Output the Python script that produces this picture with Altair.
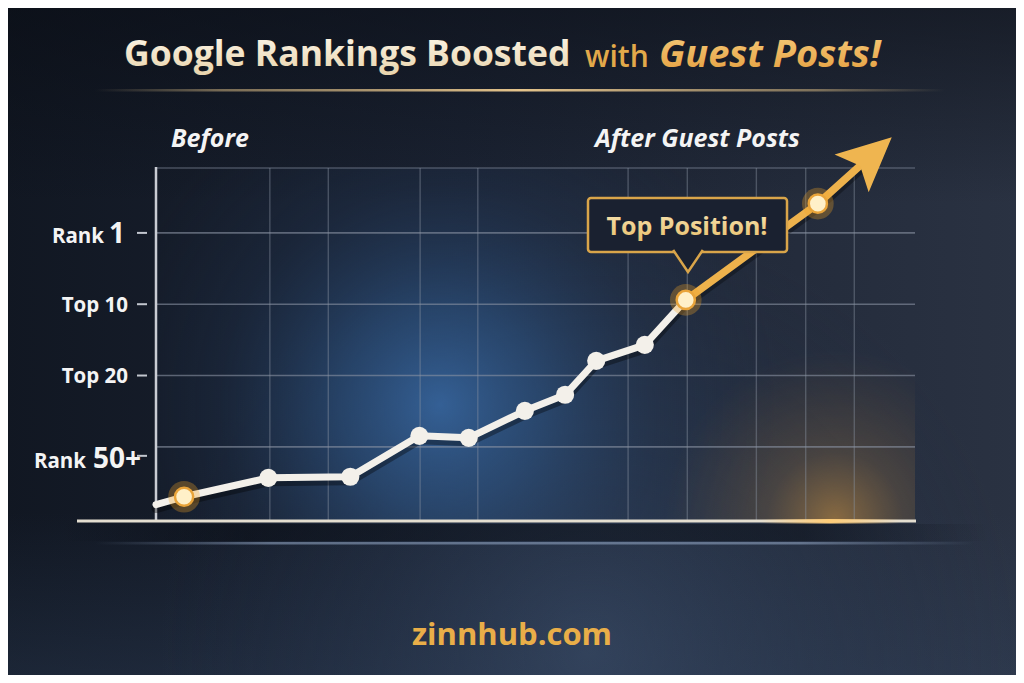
import altair as alt
import pandas as pd

# ---------------- data ----------------
weeks = [0.0, 3.7, 14.8, 25.6, 34.7, 41.2, 48.6, 53.9, 58.0, 64.4, 69.8]
levels = [0.19, 0.30, 0.565, 0.58, 1.154, 1.126, 1.505, 1.73, 2.206, 2.43, 3.06]
gold_weeks = [69.8, 87.2, 94.0]
gold_levels = [3.06, 4.41, 5.06]
highlight_weeks = [3.7, 69.8, 87.2]
highlight_levels = [0.30, 3.06, 4.41]
grid_weeks = [15.0, 22.7, 34.8, 42.4, 62.2, 70.0, 79.1, 85.6, 92.0]
rank_levels = [4, 3, 2, 1]
rank_labels = ["Rank 1", "Top 10", "Top 20", "Rank 50+"]

TITLE_MAIN = "Google Rankings Boosted"
TITLE_WITH = "with"
TITLE_GOLD = "Guest Posts!"
LEFT_NOTE = "Before"
RIGHT_NOTE = "After Guest Posts"
CALLOUT = "Top Position!"
FOOTER = "zinnhub.com"

# ---------------- layout ----------------
FONT = "Open Sans"
W, H = 759, 353
OX, OY = 156, 168  # page position of plot origin


def px(x):
    return x - OX


def py(y):
    return y - OY


xs = alt.Scale(domain=[0, 100], nice=False, zero=False)
ys = alt.Scale(domain=[-0.04, 4.91], nice=False, zero=False)
one = pd.DataFrame({"k": [0]})


def lin(stops, x1=0, y1=0, x2=1, y2=0):
    return alt.LinearGradient(
        gradient="linear",
        stops=[alt.GradientStop(color=c, offset=o) for o, c in stops],
        x1=x1, y1=y1, x2=x2, y2=y2,
    )


def rad(stops):
    return alt.RadialGradient(
        gradient="radial",
        stops=[alt.GradientStop(color=c, offset=o) for o, c in stops],
        x1=0.5, y1=0.5, r1=0, x2=0.5, y2=0.5, r2=0.5,
    )


def box(x0, x1, y0, y1, fill, **kw):
    return alt.Chart(one).mark_rect(fill=fill, **kw).encode(
        x=alt.value(px(x0)), x2=alt.value(px(x1)),
        y=alt.value(py(y0)), y2=alt.value(py(y1)),
    )


def glow(cx, cy, r, stops, clip=True):
    return box(cx - r, cx + r, cy - r, cy + r, rad(stops), clip=clip)


def text(s, x, y, align="left", **kw):
    return alt.Chart(one).mark_text(font=FONT, baseline="alphabetic", align=align, **kw).encode(
        x=alt.value(px(x)), y=alt.value(py(y)), text=alt.value(s)
    )


layers = []

# ---- background ----
layers.append(box(0, 1024, 0, 683, lin([(0, "#111722"), (0.45, "#1b2333"), (1, "#2a3242")])))
layers.append(box(0, 1024, 0, 683, lin([(0, "rgba(8,11,18,0.55)"), (0.3, "rgba(8,11,18,0)"),
                                          (0.75, "rgba(50,70,100,0)"), (1, "rgba(55,75,105,0.3)")],
                                         x1=0, y1=0, x2=0, y2=1)))
# soft slate glow behind the footer
layers.append(glow(590, 650, 430, [(0, "rgba(62,82,112,0.55)"), (0.5, "rgba(50,68,95,0.25)"),
                                   (1, "rgba(40,55,80,0)")], clip=False))
# blue glow inside the plot
layers.append(glow(440, 405, 340, [(0, "rgba(58,110,172,0.8)"), (0.3, "rgba(48,92,145,0.55)"),
                                   (0.65, "rgba(38,66,105,0.2)"), (1, "rgba(30,50,80,0)")]))
# warm glow bottom right
layers.append(glow(835, 520, 170, [(0, "rgba(235,165,65,0.5)"), (0.4, "rgba(205,145,65,0.2)"),
                                   (1, "rgba(180,120,50,0)")]))

# title separator
layers.append(box(95, 945, 89, 91.5, lin([(0, "rgba(180,160,120,0)"), (0.15, "rgba(190,165,120,0.6)"),
                                          (0.5, "rgba(240,205,145,0.95)"), (0.85, "rgba(190,165,120,0.6)"),
                                          (1, "rgba(180,160,120,0)")])))

# band below chart + lower separator
layers.append(box(60, 990, 524, 541, lin([(0, "rgba(5,8,14,0)"), (0.2, "rgba(5,8,14,0.45)"),
                                         (0.8, "rgba(5,8,14,0.45)"), (1, "rgba(5,8,14,0)")])))
layers.append(box(95, 975, 542, 544.5, lin([(0, "rgba(140,160,190,0)"), (0.2, "rgba(150,170,200,0.55)"),
                                            (0.8, "rgba(150,170,200,0.55)"), (1, "rgba(140,160,190,0)")])))

# ---- grid ----
grid_h = pd.DataFrame({"level": rank_levels})
layers.append(alt.Chart(grid_h).mark_rule(stroke="#8a93a3", strokeWidth=1.6, opacity=0.6).encode(
    y=alt.Y("level:Q", scale=ys, axis=None), x=alt.value(0), x2=alt.value(W)))
layers.append(alt.Chart(one).mark_rule(stroke="#8a93a3", strokeWidth=1.4, opacity=0.45).encode(
    y=alt.value(0), x=alt.value(0), x2=alt.value(W)))
grid_v = pd.DataFrame({"week": grid_weeks})
layers.append(alt.Chart(grid_v).mark_rule(stroke="#8a93a3", strokeWidth=1.4, opacity=0.42).encode(
    x=alt.X("week:Q", scale=xs, axis=None), y=alt.value(0), y2=alt.value(H)))

# axes lines
layers.append(alt.Chart(one).mark_rule(stroke="#c9ccd3", strokeWidth=2.5).encode(
    x=alt.value(0), y=alt.value(-1), y2=alt.value(H)))
layers.append(alt.Chart(one).mark_rule(stroke="#e4ded0", strokeWidth=3).encode(
    x=alt.value(px(77)), x2=alt.value(px(916)), y=alt.value(H)))
layers.append(box(760, 900, 519, 523.5, lin([(0, "rgba(255,200,110,0)"), (0.5, "rgba(255,205,120,1)"),
                                              (1, "rgba(255,200,110,0)")])))

# ---- y labels and ticks ----
LABEL_LAYOUT = {  # small-part right edge, big-part right edge, baseline shift, tick shift
    "Rank 1": (104, 125, 10, 0),
    "Top 10": (128, None, 7.5, 0),
    "Top 20": (128, None, 7.5, 0),
    "Rank 50+": (86, 141, 21, 9),
}
for lab, lev in zip(rank_labels, rank_levels):
    d = pd.DataFrame({"level": [lev]})
    small_r, big_r, dy, tdy = LABEL_LAYOUT[lab]
    layers.append(alt.Chart(d).mark_rule(stroke="#c3c7cf", strokeWidth=2, yOffset=tdy).encode(
        y=alt.Y("level:Q", scale=ys, axis=None), x=alt.value(-19), x2=alt.value(-9)))
    if big_r is not None:
        small, big = lab.split(" ", 1)
        layers.append(alt.Chart(d).mark_text(font=FONT, fontWeight="bold", fontSize=28, color="#f4f4f4",
                                             align="right", baseline="alphabetic", dy=dy).encode(
            y=alt.Y("level:Q", scale=ys, axis=None), x=alt.value(px(big_r)), text=alt.value(big)))
    else:
        small = lab
    layers.append(alt.Chart(d).mark_text(font=FONT, fontWeight="bold", fontSize=20.5, color="#f4f4f4",
                                         align="right", baseline="alphabetic", dy=dy).encode(
        y=alt.Y("level:Q", scale=ys, axis=None), x=alt.value(px(small_r)), text=alt.value(small)))

# ---- series ----
white = pd.DataFrame({"week": weeks, "level": levels, "order": list(range(len(weeks)))})
gold = pd.DataFrame({"week": gold_weeks, "level": gold_levels, "order": list(range(len(gold_weeks)))})
hi = pd.DataFrame({"week": highlight_weeks, "level": highlight_levels})

enc = dict(x=alt.X("week:Q", scale=xs, axis=None), y=alt.Y("level:Q", scale=ys, axis=None),
           order="order:Q")

layers.append(alt.Chart(white).mark_line(color="black", opacity=0.35, strokeWidth=9, yOffset=4,
                                         strokeCap="round", strokeJoin="round").encode(**enc))
layers.append(alt.Chart(gold).mark_line(color="black", opacity=0.3, strokeWidth=9, yOffset=4,
                                        strokeCap="round").encode(**enc))
layers.append(alt.Chart(white).mark_line(color="#f3f0ea", strokeWidth=7, strokeCap="round",
                                         strokeJoin="round").encode(**enc))
layers.append(alt.Chart(gold).mark_line(color="#eeb24c", strokeWidth=7.5, strokeCap="round",
                                        strokeJoin="round").encode(**enc))

# arrow head at end of gold series
head = gold.tail(1)
layers.append(alt.Chart(head).mark_point(shape="M0,-1L0.85,0.8L0,0.42L-0.85,0.8Z", filled=True,
                                         color="#efb550", opacity=1, size=3600, angle=48).encode(
    x=alt.X("week:Q", scale=xs, axis=None), y=alt.Y("level:Q", scale=ys, axis=None)))

# points
layers.append(alt.Chart(white.iloc[1:]).mark_circle(color="#f3f0ea", opacity=1, size=330).encode(
    x=alt.X("week:Q", scale=xs, axis=None), y=alt.Y("level:Q", scale=ys, axis=None)))
layers.append(alt.Chart(hi).mark_circle(color="#f5a623", opacity=0.3, size=1000).encode(
    x=alt.X("week:Q", scale=xs, axis=None), y=alt.Y("level:Q", scale=ys, axis=None)))
layers.append(alt.Chart(hi).mark_point(filled=True, fill="#fff0c8", stroke="#e9a43a", strokeWidth=2.5,
                                       opacity=1, size=330, shape="circle").encode(
    x=alt.X("week:Q", scale=xs, axis=None), y=alt.Y("level:Q", scale=ys, axis=None)))

# ---- callout ----
layers.append(box(588, 787, 198, 252, "#1a2130", stroke="#d9a54a", strokeWidth=2.5, cornerRadius=3))
layers.append(alt.Chart(one).mark_point(shape="M-1.35,-1L0,1L1.35,-1", filled=False, fill="#1a2130",
                                        fillOpacity=1, stroke="#d9a54a", strokeWidth=2.5, opacity=1,
                                        size=484).encode(x=alt.value(px(688)), y=alt.value(py(261))))
layers.append(text(CALLOUT, 687, 235, align="center", fontSize=25, fontWeight="bold",
                   fill=lin([(0, "#f8e6b8"), (1, "#e8bf6a")], x1=0, y1=0, x2=0, y2=1)))

# ---- titles and notes ----
layers.append(text(TITLE_MAIN, 124, 66, fontSize=35.5, fontWeight="bold",
                   fill=lin([(0, "#fffaf0"), (1, "#e8d3ab")], x1=0, y1=0, x2=0, y2=1)))
layers.append(text(TITLE_WITH, 585, 67, fontSize=30, fontWeight=600, color="#e2a94a"))
layers.append(text(TITLE_GOLD, 659, 67, fontSize=38, fontWeight="bold", fontStyle="italic",
                   fill=lin([(0, "#f8d183"), (1, "#e39c3b")], x1=0, y1=0, x2=0, y2=1)))

layers.append(text(LEFT_NOTE, 171, 147, fontSize=25, fontWeight="bold", fontStyle="italic", color="#f4f4f4"))
layers.append(text(RIGHT_NOTE, 595, 147, fontSize=25, fontWeight="bold", fontStyle="italic", color="#f4f4f4"))

layers.append(text(FOOTER, 512, 645, align="center", fontSize=31, fontWeight="bold", color="#e9ae48"))

chart = alt.layer(*layers).properties(
    width=W, height=H,
    padding={"left": OX - 8, "top": OY - 8, "right": 1008 - (OX - 8) - W, "bottom": 667 - (OY - 8) - H},
    autosize=alt.AutoSizeParams(type="none"),
    background="#1b2230",
).configure_view(stroke=None)

chart.save("out.html", embed_options={"renderer": "svg", "actions": False})
